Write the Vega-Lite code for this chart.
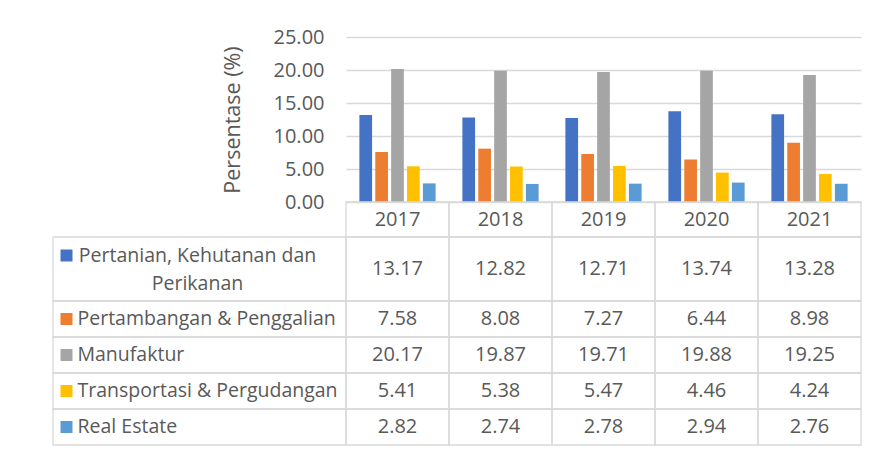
{
  "$schema": "https://vega.github.io/schema/vega-lite/v6.json",
  "padding": {"left": 52, "top": 27, "right": 0, "bottom": 0},
  "datasets": {
    "d": [
      {"year": "2017", "sector": "Pertanian, Kehutanan dan Perikanan", "value": 13.17},
      {"year": "2017", "sector": "Pertambangan & Penggalian", "value": 7.58},
      {"year": "2017", "sector": "Manufaktur", "value": 20.17},
      {"year": "2017", "sector": "Transportasi & Pergudangan", "value": 5.41},
      {"year": "2017", "sector": "Real Estate", "value": 2.82},
      {"year": "2018", "sector": "Pertanian, Kehutanan dan Perikanan", "value": 12.82},
      {"year": "2018", "sector": "Pertambangan & Penggalian", "value": 8.08},
      {"year": "2018", "sector": "Manufaktur", "value": 19.87},
      {"year": "2018", "sector": "Transportasi & Pergudangan", "value": 5.38},
      {"year": "2018", "sector": "Real Estate", "value": 2.74},
      {"year": "2019", "sector": "Pertanian, Kehutanan dan Perikanan", "value": 12.71},
      {"year": "2019", "sector": "Pertambangan & Penggalian", "value": 7.27},
      {"year": "2019", "sector": "Manufaktur", "value": 19.71},
      {"year": "2019", "sector": "Transportasi & Pergudangan", "value": 5.47},
      {"year": "2019", "sector": "Real Estate", "value": 2.78},
      {"year": "2020", "sector": "Pertanian, Kehutanan dan Perikanan", "value": 13.74},
      {"year": "2020", "sector": "Pertambangan & Penggalian", "value": 6.44},
      {"year": "2020", "sector": "Manufaktur", "value": 19.88},
      {"year": "2020", "sector": "Transportasi & Pergudangan", "value": 4.46},
      {"year": "2020", "sector": "Real Estate", "value": 2.94},
      {"year": "2021", "sector": "Pertanian, Kehutanan dan Perikanan", "value": 13.28},
      {"year": "2021", "sector": "Pertambangan & Penggalian", "value": 8.98},
      {"year": "2021", "sector": "Manufaktur", "value": 19.25},
      {"year": "2021", "sector": "Transportasi & Pergudangan", "value": 4.24},
      {"year": "2021", "sector": "Real Estate", "value": 2.76}
    ]
  },
  "columns": 2,
  "spacing": 0,
  "bounds": "flush",
  "concat": [
    {
      "width": 293, "height": 165,
      "data": {"values": []},
      "mark": {"type": "rule"},
      "encoding": {}
    },
    {
      "width": 515, "height": 165,
      "data": {"name": "d"},
      "mark": {"type": "bar"},
      "encoding": {
        "x": {"field": "year", "type": "nominal", "scale": {"paddingInner": 0.26, "paddingOuter": 0.13}, "axis": null},
        "xOffset": {"field": "sector", "type": "nominal", "sort": ["Pertanian, Kehutanan dan Perikanan", "Pertambangan & Penggalian", "Manufaktur", "Transportasi & Pergudangan", "Real Estate"], "scale": {"paddingInner": 0.2, "paddingOuter": 0}},
        "y": {"field": "value", "type": "quantitative", "scale": {"domain": [0, 25]},
          "axis": {"values": [0, 5, 10, 15, 20, 25], "format": ".2f", "title": "Persentase (%)", "grid": true, "gridColor": "#d9d9d9", "gridWidth": 1.3, "domain": false, "ticks": false, "labelPadding": 22, "labelFontSize": 20, "titleFontSize": 21.5, "titlePadding": 29}},
        "color": {"field": "sector", "type": "nominal", "scale": {"domain": ["Pertanian, Kehutanan dan Perikanan", "Pertambangan & Penggalian", "Manufaktur", "Transportasi & Pergudangan", "Real Estate"], "range": ["#4472C4", "#ED7D31", "#A5A5A5", "#FFC000", "#5B9BD5"]}, "legend": null}
      }
    },
    {
      "width": 293, "height": 35,
      "data": {"values": []},
      "mark": {"type": "rule"},
      "encoding": {}
    },
    {
      "width": 515, "height": 35,
      "data": {"name": "d"},
      "transform": [{"aggregate": [], "groupby": ["year"]}],
      "layer": [
        {
          "mark": {"type": "rect", "filled": false, "stroke": "#d9d9d9", "strokeWidth": 1.3},
          "encoding": {
            "x": {"field": "year", "type": "nominal", "scale": {"paddingInner": 0, "paddingOuter": 0}, "axis": null},
            "y": {"value": 0},
            "y2": {"value": "height"}
          }
        },
        {
          "mark": {"type": "text", "fontSize": 20},
          "encoding": {
            "x": {"field": "year", "type": "nominal", "axis": null},
            "text": {"field": "year"}
          }
        }
      ]
    },
    {
      "width": 293, "height": 64,
      "data": {"name": "d"},
      "transform": [{"filter": "datum.sector == 'Pertanian, Kehutanan dan Perikanan'"}, {"aggregate": [], "groupby": ["sector"]}],
      "layer": [
        {
          "mark": {"type": "rect", "filled": false, "stroke": "#d9d9d9", "strokeWidth": 1.3},
          "encoding": {"x": {"value": 0}, "x2": {"value": "width"}, "y": {"value": 0}, "y2": {"value": "height"}}
        },
        {
          "mark": {"type": "point", "shape": "square", "filled": true, "size": 144, "opacity": 1},
          "encoding": {
            "x": {"value": 13.5}, "y": {"value": 18.5},
            "color": {"field": "sector", "type": "nominal", "scale": {"domain": ["Pertanian, Kehutanan dan Perikanan", "Pertambangan & Penggalian", "Manufaktur", "Transportasi & Pergudangan", "Real Estate"], "range": ["#4472C4", "#ED7D31", "#A5A5A5", "#FFC000", "#5B9BD5"]}, "legend": null}
          }
        },
        {
          "mark": {"type": "text", "align": "center", "lineHeight": 28, "dy": -13, "fontSize": 19.5},
          "encoding": {
            "x": {"value": 144.5},
            "text": {"value": ["Pertanian, Kehutanan dan", "Perikanan"]}
          }
        }
      ]
    },
    {
      "width": 515, "height": 64,
      "data": {"name": "d"},
      "transform": [{"filter": "datum.sector == 'Pertanian, Kehutanan dan Perikanan'"}],
      "layer": [
        {
          "mark": {"type": "rect", "filled": false, "stroke": "#d9d9d9", "strokeWidth": 1.3},
          "encoding": {
            "x": {"field": "year", "type": "nominal", "scale": {"paddingInner": 0, "paddingOuter": 0}, "axis": null},
            "y": {"value": 0}, "y2": {"value": "height"}
          }
        },
        {
          "mark": {"type": "text", "fontSize": 20},
          "encoding": {
            "x": {"field": "year", "type": "nominal", "axis": null},
            "text": {"field": "value", "type": "quantitative", "format": ".2f"}
          }
        }
      ]
    },
    {
      "width": 293, "height": 144,
      "data": {"name": "d"},
      "transform": [{"filter": "datum.sector != 'Pertanian, Kehutanan dan Perikanan'"}, {"aggregate": [], "groupby": ["sector"]}],
      "layer": [
        {
          "mark": {"type": "rect", "filled": false, "stroke": "#d9d9d9", "strokeWidth": 1.3},
          "encoding": {
            "x": {"value": 0}, "x2": {"value": "width"},
            "y": {"field": "sector", "type": "nominal", "sort": ["Pertambangan & Penggalian", "Manufaktur", "Transportasi & Pergudangan", "Real Estate"], "scale": {"paddingInner": 0, "paddingOuter": 0}, "axis": null}
          }
        },
        {
          "mark": {"type": "point", "shape": "square", "filled": true, "size": 144, "opacity": 1},
          "encoding": {
            "x": {"value": 13.5},
            "y": {"field": "sector", "type": "nominal", "sort": ["Pertambangan & Penggalian", "Manufaktur", "Transportasi & Pergudangan", "Real Estate"], "axis": null},
            "color": {"field": "sector", "type": "nominal", "scale": {"domain": ["Pertanian, Kehutanan dan Perikanan", "Pertambangan & Penggalian", "Manufaktur", "Transportasi & Pergudangan", "Real Estate"], "range": ["#4472C4", "#ED7D31", "#A5A5A5", "#FFC000", "#5B9BD5"]}, "legend": null}
          }
        },
        {
          "mark": {"type": "text", "align": "left", "fontSize": 19.5},
          "encoding": {
            "x": {"value": 24.5},
            "y": {"field": "sector", "type": "nominal", "sort": ["Pertambangan & Penggalian", "Manufaktur", "Transportasi & Pergudangan", "Real Estate"], "axis": null},
            "text": {"field": "sector"}
          }
        }
      ]
    },
    {
      "width": 515, "height": 144,
      "data": {"name": "d"},
      "transform": [{"filter": "datum.sector != 'Pertanian, Kehutanan dan Perikanan'"}],
      "layer": [
        {
          "mark": {"type": "rect", "filled": false, "stroke": "#d9d9d9", "strokeWidth": 1.3},
          "encoding": {
            "x": {"field": "year", "type": "nominal", "scale": {"paddingInner": 0, "paddingOuter": 0}, "axis": null},
            "y": {"field": "sector", "type": "nominal", "sort": ["Pertambangan & Penggalian", "Manufaktur", "Transportasi & Pergudangan", "Real Estate"], "scale": {"paddingInner": 0, "paddingOuter": 0}, "axis": null}
          }
        },
        {
          "mark": {"type": "text", "fontSize": 20},
          "encoding": {
            "x": {"field": "year", "type": "nominal", "axis": null},
            "y": {"field": "sector", "type": "nominal", "sort": ["Pertambangan & Penggalian", "Manufaktur", "Transportasi & Pergudangan", "Real Estate"], "axis": null},
            "text": {"field": "value", "type": "quantitative", "format": ".2f"}
          }
        }
      ]
    }
  ],
  "config": {
    "view": {"stroke": null},
    "font": "Open Sans",
    "text": {"font": "Open Sans", "fontSize": 19, "color": "#595959", "baseline": "middle"},
    "axis": {
      "labelFont": "Open Sans", "labelFontSize": 19, "labelColor": "#595959",
      "titleFont": "Open Sans", "titleFontSize": 19, "titleFontWeight": "normal", "titleColor": "#595959"
    }
  }
}
